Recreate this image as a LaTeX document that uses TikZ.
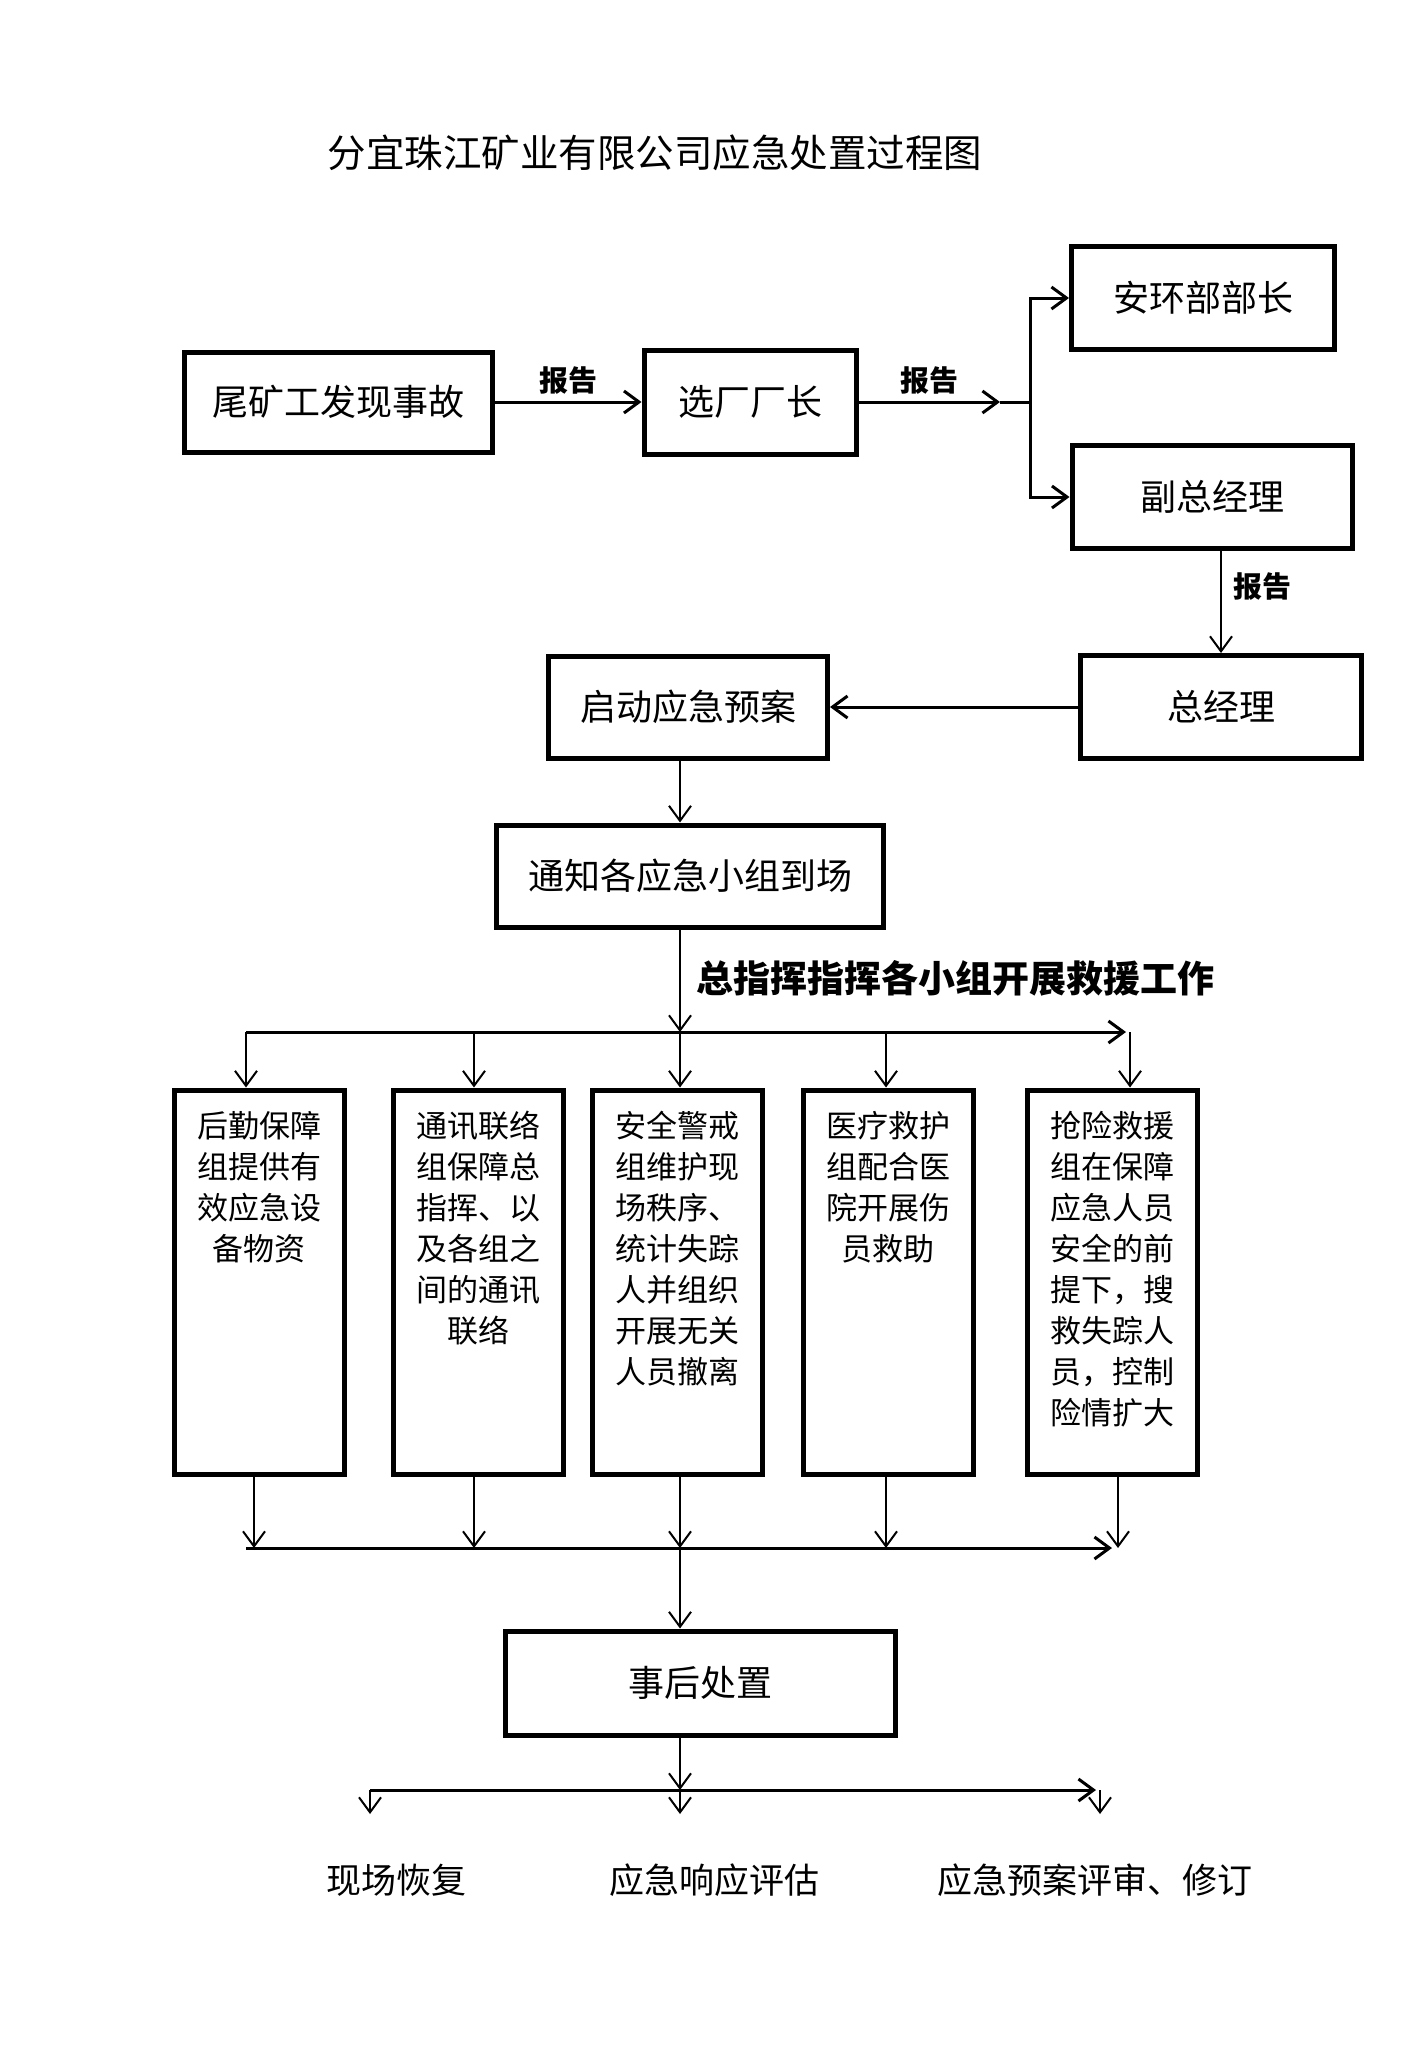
\documentclass[tikz,border=0pt]{standalone}
\usepackage{fontspec}
\setmainfont{Noto Sans CJK SC}
\usetikzlibrary{arrows.meta}

\begin{document}
\begin{tikzpicture}[x=1pt, y=-1pt,
    >={Straight Barb[length=15pt,width=22pt]},
    box/.style={draw, line width=5pt, inner sep=0pt, font=\fontsize{36}{40}\selectfont},
    group box/.style={draw, line width=5pt, inner sep=0pt, text width=170pt, align=center,
      text height=47pt, text depth=337pt, font=\fontsize{31}{41}\selectfont},
    link/.style={->, line width=2pt},
    bus/.style={line width=3pt},
    report/.style={font=\fontsize{29}{32}\selectfont\bfseries},
    result/.style={font=\fontsize{35}{40}\selectfont}]

  \useasboundingbox (0,0) rectangle (1413,2052);

  \node [font=\fontsize{38.5}{42}\selectfont] (title) at (655,153) {分宜珠江矿业有限公司应急处置过程图};

  % reporting chain
  \node [box, minimum width=308pt, minimum height=100pt] (finder) at (338,402) {尾矿工发现事故};
  \node [box, minimum width=212pt, minimum height=104pt] (plant) at (750,402) {选厂厂长};
  \node [box, minimum width=263pt, minimum height=103pt] (safety) at (1203,298) {安环部部长};
  \node [box, minimum width=280pt, minimum height=103pt] (vice) at (1212,497) {副总经理};
  \node [box, minimum width=281pt, minimum height=103pt] (gm) at (1221,707) {总经理};
  \node [box, minimum width=279pt, minimum height=102pt] (start) at (688,707) {启动应急预案};
  \node [box, minimum width=387pt, minimum height=102pt] (notify) at (690,876) {通知各应急小组到场};

  \coordinate (trunk) at (680,0);
  \coordinate (split-tip) at (1000,402);
  \coordinate (split) at (1030,402);

  \draw [link, bus] (finder) -- (plant) node [report, midway, above=3pt] {报告};
  \draw [link, bus] (plant) -- (split-tip) node [report, midway, above=3pt] {报告};
  \draw [bus] (split-tip) -- (split);
  \draw [link, bus] (split) |- (safety);
  \draw [link, bus] (split) |- (vice);
  \draw [link] (vice.south -| gm) -- (gm) node [report, pos=0.35, right=8pt] {报告};
  \draw [link, bus] (gm) -- (start);
  \draw [link] (start.south -| trunk) -- (notify.north -| trunk);

  % rescue groups
  \foreach \x/\t [count=\i] in {259/{后勤保障\\组提供有\\效应急设\\备物资},
      478/{通讯联络\\组保障总\\指挥、以\\及各组之\\间的通讯\\联络},
      677/{安全警戒\\组维护现\\场秩序、\\统计失踪\\人并组织\\开展无关\\人员撤离},
      888/{医疗救护\\组配合医\\院开展伤\\员救助},
      1112/{抢险救援\\组在保障\\应急人员\\安全的前\\提下，搜\\救失踪人\\员，控制\\险情扩大}}
    \node [group box] (group-\i) at (\x,1282) {\t};

  \node [report, font=\fontsize{37}{40}\selectfont\bfseries, anchor=west] (command) at (693,978)
    {总指挥指挥各小组开展救援工作};

  \foreach \x [count=\i] in {246,474,680,886,1130}
    \coordinate (fan-\i) at (\x,1032);
  \coordinate (fan-end) at (1126,1032);
  \draw [link] (notify.south -| trunk) -- (fan-3);
  \draw [->, bus] (fan-1) -- (fan-end);
  \foreach \i in {1,...,5}
    \draw [link] (fan-\i) -- (fan-\i |- group-\i.north);

  \foreach \x [count=\i] in {254,474,680,886,1118}
    \coordinate (join-\i) at (\x,1548);
  \coordinate (join-start) at (246,1548);
  \coordinate (join-end) at (1112,1548);
  \draw [->, bus] (join-start) -- (join-end);
  \foreach \i in {1,...,5}
    \draw [link] (group-\i.south -| join-\i) -- (join-\i);

  % after the rescue
  \node [box, minimum width=390pt, minimum height=104pt] (after) at (700,1683) {事后处置};
  \draw [link] (join-3) -- (after.north -| trunk);

  \foreach \x [count=\i] in {370,680,1100} {
    \coordinate (spread-\i) at (\x,1790);
    \coordinate (tip-\i) at (\x,1814);
  }
  \coordinate (spread-end) at (1096,1790);
  \draw [link] (after.south -| trunk) -- (spread-2);
  \draw [->, bus] (spread-1) -- (spread-end);
  \foreach \i in {1,2,3}
    \draw [link] (spread-\i) -- (tip-\i);

  \foreach \x/\t [count=\i] in {396/现场恢复, 714/应急响应评估, 1095/应急预案评审、修订}
    \node [result] (result-\i) at (\x,1880) {\t};

\end{tikzpicture}
\end{document}
